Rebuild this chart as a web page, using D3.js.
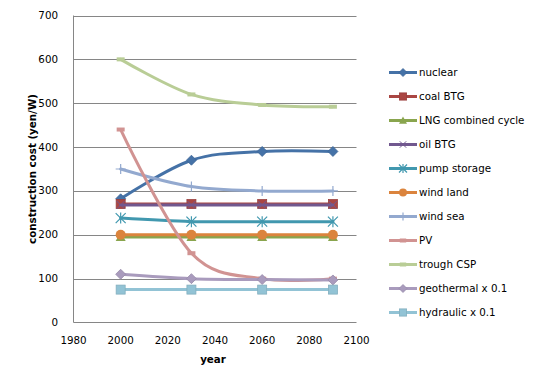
<!DOCTYPE html>
<html><head><meta charset="utf-8">
<script src="https://cdn.jsdelivr.net/npm/d3@7"></script>
<style>body{margin:0;background:#fff}svg{display:block}text{font-family:"DejaVu Sans",Verdana,sans-serif}</style>
</head><body><svg id="c" width="542" height="384"></svg>
<script>
const years = [2000, 2030, 2060, 2090];
const seriesNames = ["nuclear","coal BTG","LNG combined cycle","oil BTG","pump storage","wind land","wind sea","PV","trough CSP","geothermal x 0.1","hydraulic x 0.1"];
const nuclear = [282, 370, 390, 390];
const coalBTG = [270, 270, 270, 270];
const lngCombined = [195, 195, 195, 195];
const oilBTG = [268, 268, 268, 268];
const pumpStorage = [238, 230, 230, 230];
const windLand = [200, 200, 200, 200];
const windSea = [350, 310, 300, 300];
const pv = [440, 158, 100, 100];
const troughCSP = [600, 520, 496, 492];
const geothermal = [110, 100, 98, 97];
const hydraulic = [75, 75, 75, 75];
const xTicks = [1980, 2000, 2020, 2040, 2060, 2080, 2100];
const yTicks = [0, 100, 200, 300, 400, 500, 600, 700];

const values = [nuclear, coalBTG, lngCombined, oilBTG, pumpStorage, windLand, windSea, pv, troughCSP, geothermal, hydraulic];
const colors = ["#4572A7","#AA4643","#89A54E","#71588F","#4198AF","#DB843D","#93A9CF","#D19392","#B9CD96","#A99BBD","#92C3D5"];
const markers = ["diamond","square","triangle","x","star","circle","plus","dash","dash","diamond","square"];

const svg = d3.select("#c");
const x = d3.scaleLinear().domain([1980, 2100]).range([73.5, 356.5]);
const y = d3.scaleLinear().domain([0, 700]).range([322.5, 15.5]);

svg.append("g").selectAll("line").data(yTicks.filter(d=>d>0)).join("line")
  .attr("x1", x(1980)).attr("x2", x(2100)).attr("y1", d=>Math.round(y(d))+0.5).attr("y2", d=>Math.round(y(d))+0.5)
  .attr("stroke", "#868686").attr("stroke-width", 1);
svg.append("line").attr("x1", x(1980)).attr("x2", x(2100)).attr("y1", y(0)).attr("y2", y(0)).attr("stroke","#868686");
svg.append("line").attr("x1", x(1980)).attr("x2", x(1980)).attr("y1", y(0)).attr("y2", y(700)).attr("stroke","#868686");

svg.append("g").selectAll("text").data(yTicks).join("text")
  .attr("x", 58).attr("y", d=>y(d)+3.5).attr("text-anchor","end").attr("font-size", 10.3).attr("fill","#000").text(d=>d);
svg.append("g").selectAll("text").data(xTicks).join("text")
  .attr("x", d=>x(d)).attr("y", 343.5).attr("text-anchor","middle").attr("font-size", 10.3).attr("fill","#000").text(d=>d);

svg.append("text").attr("x", 213).attr("y", 363).attr("text-anchor","middle").attr("font-size",10.3).attr("font-weight","bold").text("year");
svg.append("text").attr("transform","translate(36,169) rotate(-90)").attr("text-anchor","middle").attr("font-size",10.3).attr("font-weight","bold").text("construction cost (yen/W)");

function drawMarker(g, type, cx, cy, color, s) {
  const k = s || 1;
  if (type === "diamond") {
    const r = 5*k;
    g.append("path").attr("d", `M${cx},${cy-r}L${cx+r},${cy}L${cx},${cy+r}L${cx-r},${cy}Z`).attr("fill", color).attr("stroke", d3.color(color).darker(0.3)).attr("stroke-width",0.8);
  } else if (type === "square") {
    const r = 4.5*k;
    g.append("rect").attr("x", cx-r).attr("y", cy-r).attr("width", 2*r).attr("height", 2*r).attr("fill", color).attr("stroke", d3.color(color).darker(0.3)).attr("stroke-width",0.8);
  } else if (type === "triangle") {
    const r = 5*k;
    g.append("path").attr("d", `M${cx},${cy-r}L${cx+r},${cy+r*0.8}L${cx-r},${cy+r*0.8}Z`).attr("fill", color);
  } else if (type === "circle") {
    g.append("circle").attr("cx", cx).attr("cy", cy).attr("r", 5*k).attr("fill", color);
  } else if (type === "x") {
    const r = 4*k;
    g.append("path").attr("d", `M${cx-r},${cy-r}L${cx+r},${cy+r}M${cx+r},${cy-r}L${cx-r},${cy+r}`).attr("stroke", color).attr("stroke-width",1);
  } else if (type === "star") {
    const r = 5*k;
    g.append("path").attr("d", `M${cx-r},${cy-r}L${cx+r},${cy+r}M${cx+r},${cy-r}L${cx-r},${cy+r}M${cx},${cy-r*1.1}L${cx},${cy+r*1.1}`).attr("stroke", color).attr("stroke-width",1.2);
  } else if (type === "plus") {
    const r = 5*k;
    g.append("path").attr("d", `M${cx-r},${cy}L${cx+r},${cy}M${cx},${cy-r}L${cx},${cy+r}`).attr("stroke", color).attr("stroke-width",1.2);
  } else if (type === "dash") {
    g.append("rect").attr("x", cx-4*k).attr("y", cy-2).attr("width", 8*k).attr("height", 4).attr("fill", color);
  }
}

const line = d3.line().x((d,i)=>x(years[i])).y(d=>y(d)).curve(d3.curveCatmullRom.alpha(0));
const plot = svg.append("g");
values.forEach((vals, si) => {
  const g = plot.append("g");
  g.append("path").attr("d", line(vals)).attr("fill","none").attr("stroke", colors[si]).attr("stroke-width", 3).attr("stroke-linecap","round");
  vals.forEach((v,i) => drawMarker(g, markers[si], x(years[i]), y(v), colors[si], 1));
});

const legY = [72.5, 96.5, 120.5, 144.5, 168.5, 192.5, 216.5, 240.5, 264.5, 288.5, 312.5];
const leg = svg.append("g");
seriesNames.forEach((name, si) => {
  const g = leg.append("g");
  const ly = legY[si];
  g.append("line").attr("x1", 389).attr("x2", 417).attr("y1", ly).attr("y2", ly).attr("stroke", colors[si]).attr("stroke-width", 3);
  drawMarker(g, markers[si], 403, ly, colors[si], 0.8);
  g.append("text").attr("x", 419).attr("y", ly+3.7).attr("font-size", 10.3).attr("fill","#000").text(name);
});
</script></body></html>
